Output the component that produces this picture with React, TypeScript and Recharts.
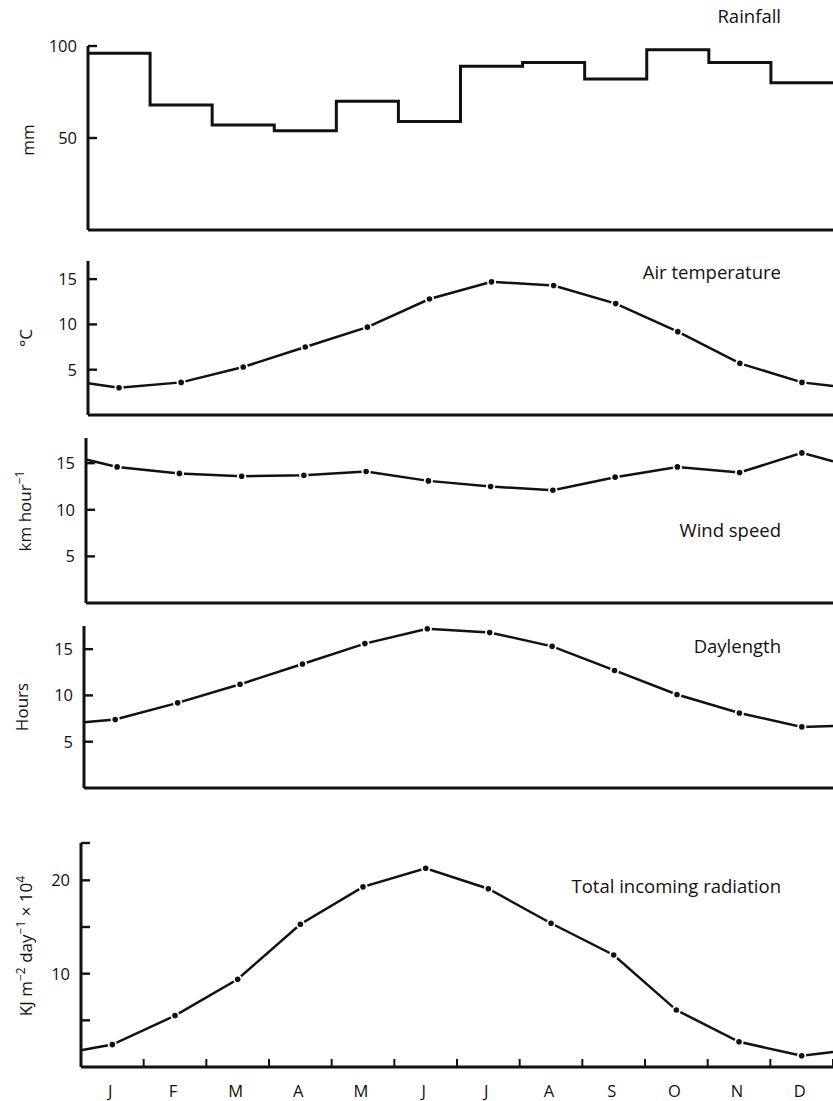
import React from 'react';
import { LineChart, Line, XAxis, YAxis, Customized } from 'recharts';

const months = ['J', 'F', 'M', 'A', 'M', 'J', 'J', 'A', 'S', 'O', 'N', 'D'];

const rainfall = [96, 68, 57, 54, 70, 59, 89, 91, 82, 98, 91, 80];

const airTemp = [3.0, 3.6, 5.3, 7.5, 9.7, 12.8, 14.7, 14.3, 12.3, 9.2, 5.7, 3.6];
const airTempEnds = [3.5, 3.2];

const windSpeed = [14.6, 13.9, 13.6, 13.7, 14.1, 13.1, 12.5, 12.1, 13.5, 14.6, 14.0, 16.1];
const windSpeedEnds = [15.4, 15.2];

const daylength = [7.4, 9.2, 11.2, 13.4, 15.6, 17.2, 16.8, 15.3, 12.7, 10.1, 8.1, 6.6];
const daylengthEnds = [7.1, 6.7];

const radiation = [2.4, 5.5, 9.4, 15.3, 19.3, 21.3, 19.1, 15.4, 12.0, 6.1, 2.7, 1.2];
const radiationEnds = [1.8, 1.6];

const rainTicks = [50, 100];
const rainLabels = [50, 100];
const smallTicks = [5, 10, 15];
const smallLabels = [5, 10, 15];
const radTicks = [5, 10, 15, 20, 24];
const radLabels = [10, 20];

const INK = '#111';
const FONT = '"Open Sans", "DejaVu Sans", sans-serif';
const W = 833;
const H = 1101;
const XH = 20;

type Pt = { x: number; v: number; edge?: boolean };

function buildSeries(vals: number[], ends: number[]): Pt[] {
  return [
    { x: 0, v: ends[0], edge: true },
    ...vals.map((v, i) => ({ x: i + 0.5, v })),
    { x: months.length, v: ends[1], edge: true },
  ];
}

function buildSteps(vals: number[]): Pt[] {
  return [...vals.map((v, i) => ({ x: i, v })), { x: vals.length, v: vals[vals.length - 1] }];
}

const renderDot = (p: any) => {
  const { cx, cy, payload, index } = p;
  if (!payload || payload.edge || cx == null || cy == null) return <g key={`d${index}`} />;
  return (
    <g key={`d${index}`}>
      <circle cx={cx} cy={cy} r={4.6} fill="#fff" />
      <circle cx={cx} cy={cy} r={2.8} fill={INK} />
    </g>
  );
};

const makeYTick = (labels: number[]) => (p: any) => {
  const { x, y, payload } = p;
  const v = payload.value;
  return (
    <g>
      <line x1={x} x2={x + 9} y1={y} y2={y} stroke={INK} strokeWidth={2.4} />
      {labels.includes(v) && (
        <text x={x - 11} y={y} dy="0.36em" textAnchor="end" fontSize={16.5} fontFamily={FONT} fill={INK}>
          {v}
        </text>
      )}
    </g>
  );
};

const monthTicks = months.flatMap((_, i) => [i + 0.5, i + 1]);

const XTick = (p: any) => {
  const { x, y, payload } = p;
  const v = payload.value;
  if (Number.isInteger(v)) {
    return <line x1={x} x2={x} y1={y} y2={y - 8} stroke={INK} strokeWidth={2} />;
  }
  return (
    <text x={x - 2} y={y + 30} textAnchor="middle" fontSize={16.5} fontFamily={FONT} fill={INK}>
      {months[Math.floor(v)]}
    </text>
  );
};

const NoTick = () => <g />;

type PanelProps = {
  data: Pt[];
  axisX: number;
  top: number;
  bottom: number;
  max: number;
  ticks: number[];
  labels: number[];
  title: string;
  titleY: number;
  yLabel: React.ReactNode;
  yLabelX: number;
  yLabelY: number;
  step?: boolean;
  showMonths?: boolean;
};

function Panel(props: PanelProps) {
  const { data, axisX, top, bottom, max, ticks, labels, title, titleY, yLabel, yLabelX, yLabelY, step, showMonths } = props;
  return (
    <div style={{ position: 'absolute', left: 0, top: 0 }}>
      <LineChart width={W} height={H} data={data} margin={{ top, bottom: H - bottom - XH, left: 0, right: 0 }}>
        <XAxis
          type="number"
          dataKey="x"
          domain={[0, 12]}
          height={XH}
          ticks={showMonths ? monthTicks : [0, 12]}
          interval={0}
          tick={showMonths ? XTick : NoTick}
          tickLine={false}
          tickSize={0}
          tickMargin={0}
          axisLine={{ stroke: INK, strokeWidth: 3 }}
        />
        <YAxis
          type="number"
          domain={[0, max]}
          width={axisX}
          ticks={ticks}
          interval={0}
          tick={makeYTick(labels)}
          tickLine={false}
          tickSize={0}
          tickMargin={0}
          axisLine={{ stroke: INK, strokeWidth: 3 }}
          allowDataOverflow
        />
        <Line
          type={step ? 'stepAfter' : 'linear'}
          dataKey="v"
          stroke={INK}
          strokeWidth={step ? 3 : 2.5}
          dot={step ? false : renderDot}
          activeDot={false}
          isAnimationActive={false}
        />
        <Customized
          component={
            <g>
              <text x={781} y={titleY} textAnchor="end" fontSize={18.5} fontFamily={FONT} fill={INK}>
                {title}
              </text>
              <text
                x={yLabelX}
                y={yLabelY}
                dy="0.36em"
                textAnchor="middle"
                fontSize={17}
                fontFamily={FONT}
                fill={INK}
                transform={`rotate(-90 ${yLabelX} ${yLabelY})`}
              >
                {yLabel}
              </text>
            </g>
          }
        />
      </LineChart>
    </div>
  );
}

const sup = (s: string) => (
  <>
    <tspan dy={-7} fontSize={12}>
      {s}
    </tspan>
    <tspan dy={7}> </tspan>
  </>
);

export default function App() {
  return (
    <div style={{ position: 'absolute', left: 0, top: 0, width: W, height: H, background: '#fff', overflow: 'hidden' }}>
      <Panel
        data={buildSteps(rainfall)}
        axisX={88}
        top={46}
        bottom={230}
        max={100}
        ticks={rainTicks}
        labels={rainLabels}
        title="Rainfall"
        titleY={23}
        yLabel="mm"
        yLabelX={28}
        yLabelY={140}
        step
      />
      <Panel
        data={buildSeries(airTemp, airTempEnds)}
        axisX={88}
        top={261}
        bottom={415}
        max={17}
        ticks={smallTicks}
        labels={smallLabels}
        title="Air temperature"
        titleY={279}
        yLabel="°C"
        yLabelX={26}
        yLabelY={338}
      />
      <Panel
        data={buildSeries(windSpeed, windSpeedEnds)}
        axisX={86}
        top={438}
        bottom={603}
        max={17.7}
        ticks={smallTicks}
        labels={smallLabels}
        title="Wind speed"
        titleY={537}
        yLabel={
          <>
            km hour
            <tspan dy={-7} fontSize={12}>
              −1
            </tspan>
          </>
        }
        yLabelX={25}
        yLabelY={511}
      />
      <Panel
        data={buildSeries(daylength, daylengthEnds)}
        axisX={84}
        top={626}
        bottom={788}
        max={17.5}
        ticks={smallTicks}
        labels={smallLabels}
        title="Daylength"
        titleY={653}
        yLabel="Hours"
        yLabelX={22}
        yLabelY={707}
      />
      <Panel
        data={buildSeries(radiation, radiationEnds)}
        axisX={81}
        top={843}
        bottom={1067}
        max={24}
        ticks={radTicks}
        labels={radLabels}
        title="Total incoming radiation"
        titleY={893}
        yLabel={
          <>
            KJ m{sup('−2')}day{sup('−1')}× 10
            <tspan dy={-7} fontSize={12}>
              4
            </tspan>
          </>
        }
        yLabelX={26}
        yLabelY={946}
        showMonths
      />
    </div>
  );
}
